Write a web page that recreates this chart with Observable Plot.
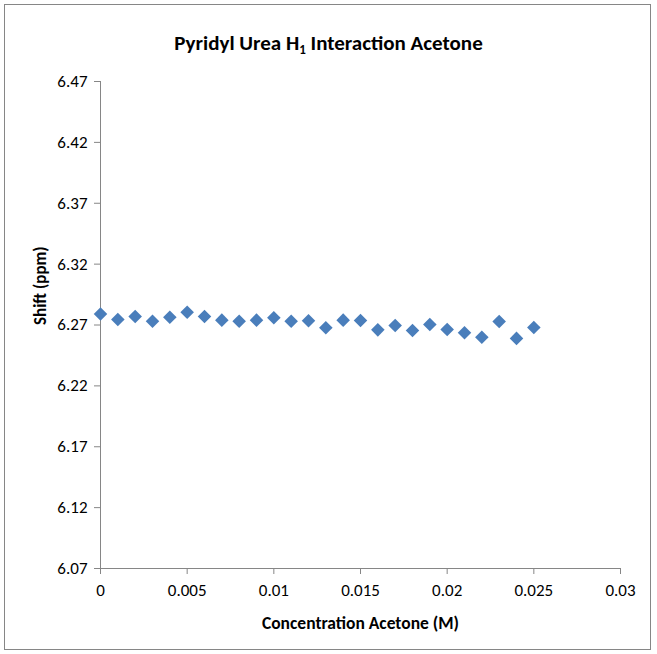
<!DOCTYPE html>
<html>
<head>
<meta charset="utf-8">
<script src="https://cdn.jsdelivr.net/npm/d3@7"></script>
<script src="https://cdn.jsdelivr.net/npm/@observablehq/plot@0.6"></script>
<style>
  html, body { margin: 0; padding: 0; background: #fff; }
  #wrap { position: relative; width: 657px; height: 654px; font-family: Carlito, Lato, sans-serif; }
  #frame { position: absolute; left: 4px; top: 4px; width: 647px; height: 646px; border: 1px solid #868686; box-sizing: border-box; }
  #title { position: absolute; left: 0; top: 30px; width: 657px; text-align: center; font-size: 21px; font-weight: bold; color: #000; line-height: 26px; }
  #title sub { font-size: 13px; vertical-align: -4px; line-height: 0; }
  #chart { position: absolute; left: 0; top: 66px; }
</style>
</head>
<body>
<div id="wrap">
  <div id="frame"></div>
  <div id="title">Pyridyl Urea H<sub>1</sub> Interaction Acetone</div>
  <div id="chart"></div>
</div>
<script>
const concentration = [0, 0.001, 0.002, 0.003, 0.004, 0.005, 0.006, 0.007, 0.008, 0.009, 0.010, 0.011, 0.012,
  0.013, 0.014, 0.015, 0.016, 0.017, 0.018, 0.019, 0.020, 0.021, 0.022, 0.023, 0.024, 0.025];
const shift = [6.279, 6.2745, 6.277, 6.273, 6.2764, 6.2805, 6.277, 6.274, 6.273, 6.274, 6.276, 6.273, 6.2735,
  6.2677, 6.274, 6.2737, 6.266, 6.2696, 6.2655, 6.2704, 6.2663, 6.2636, 6.260, 6.2729, 6.259, 6.268];
const xTicks = [0, 0.005, 0.01, 0.015, 0.02, 0.025, 0.03];
const xTickLabels = ["0", "0.005", "0.01", "0.015", "0.02", "0.025", "0.03"];
const yTicks = [6.07, 6.12, 6.17, 6.22, 6.27, 6.32, 6.37, 6.42, 6.47];
const yTickLabels = ["6.07", "6.12", "6.17", "6.22", "6.27", "6.32", "6.37", "6.42", "6.47"];
const xLabel = "Concentration Acetone (M)";
const yLabel = "Shift (ppm)";

const data = concentration.map((c, i) => ({c, s: shift[i]}));
const font = 'Carlito, Lato, sans-serif';

const plot = Plot.plot({
  width: 657,
  height: 588,
  marginTop: 15,
  marginBottom: 86,
  marginLeft: 100,
  marginRight: 37,
  style: {fontFamily: font, fontSize: "17px", color: "#000", background: "transparent"},
  x: {domain: [0, 0.03]},
  y: {domain: [6.07, 6.47]},
  marks: [
    Plot.axisX({ticks: xTicks, tickFormat: (d, i) => xTickLabels[i], tickSize: 6, tickPadding: 9, stroke: "#868686", label: null, fontSize: 17}),
    Plot.axisY({ticks: yTicks, tickFormat: (d, i) => yTickLabels[i], tickSize: 6, tickPadding: 7, stroke: "#868686", label: null, fontSize: 17}),
    Plot.ruleY([6.07], {stroke: "#868686"}),
    Plot.ruleX([0], {stroke: "#868686"}),
    Plot.dot(data, {x: "c", y: "s", symbol: "diamond2", r: 6.1, fill: "#4a7ebb", stroke: "none"}),
    Plot.text([xLabel], {frameAnchor: "bottom", dy: 60, text: d => d, fontWeight: "bold", fontSize: 17.5}),
    Plot.text([yLabel], {frameAnchor: "left", dx: -60, rotate: -90, text: d => d, fontWeight: "bold", fontSize: 17})
  ]
});
document.getElementById("chart").appendChild(plot);
</script>
</body>
</html>
